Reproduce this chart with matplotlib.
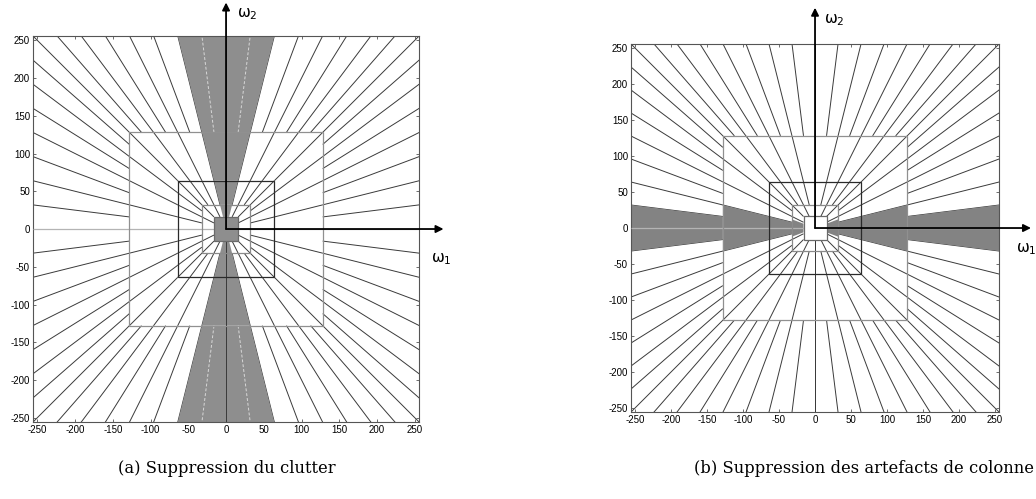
import numpy as np
import matplotlib
matplotlib.use("Agg")
import matplotlib.pyplot as plt
from matplotlib.collections import LineCollection
from matplotlib.patches import Polygon, Rectangle

# Pavage fréquentiel (couronnes carrées + directions)
ring_edges = [16, 32, 64, 128, 256]
ring_steps = [1 / 2, 1 / 4, 1 / 4, 1 / 8]        # pas des pentes par couronne
gray_clutter = [1 / 4, 1 / 4, 1 / 4, 1 / 4]      # cône vertical supprimé (a)
gray_columns = [3 / 8, 1 / 4, 1 / 4, 1 / 8]      # cône horizontal supprimé (b)
tick_vals = list(range(-250, 251, 50))
captions = ["(a) Suppression du clutter",
            "(b) Suppression des artefacts de colonne"]

plt.rcParams["font.family"] = ["Liberation Sans", "DejaVu Sans"]
plt.rcParams["mathtext.fontset"] = "dejavusans"
plt.rcParams["axes.unicode_minus"] = False


def wedge_polys(r0, r1, a, vertical):
    polys = []
    for s in (1, -1):
        pts = [(-a * r1, s * r1), (a * r1, s * r1), (a * r0, s * r0), (-a * r0, s * r0)]
        if not vertical:
            pts = [(y, x) for x, y in pts]
        polys.append(pts)
    return polys


def draw_panel(ax, gray, vertical, center_gray, fill):
    dark, light, dashed = [], [], []
    for i in range(4):
        r0, r1 = ring_edges[i], ring_edges[i + 1]
        ts = np.arange(-1, 1 + 1e-9, ring_steps[i])
        for t in ts:
            for s in (1, -1):
                # cône horizontal
                seg = [(s * r0, s * r0 * t), (s * r1, s * r1 * t)]
                inside = (not vertical) and abs(t) < gray[i] - 1e-9
                if abs(t) < 1e-9:
                    light.append(seg)
                elif inside:
                    dashed.append(seg)
                else:
                    dark.append(seg)
                if abs(abs(t) - 1) < 1e-9:
                    continue
                # cône vertical
                seg = [(s * r0 * t, s * r0), (s * r1 * t, s * r1)]
                inside = vertical and abs(t) < gray[i] - 1e-9
                if inside and abs(t) > 1e-9:
                    dashed.append(seg)
                else:
                    dark.append(seg)

    ax.add_collection(LineCollection(dark, colors="#3a3a3a", linewidths=0.7, zorder=1))
    for i in range(4):
        for p in wedge_polys(ring_edges[i], ring_edges[i + 1], gray[i], vertical):
            ax.add_patch(Polygon(p, closed=True, facecolor=fill, edgecolor="none", zorder=2))
    r = ring_edges[0]
    ax.add_patch(Rectangle((-r, -r), 2 * r, 2 * r,
                           facecolor=fill if center_gray else "white",
                           edgecolor="none", zorder=2))
    ax.add_collection(LineCollection(light, colors="#b4b4b4", linewidths=0.9, zorder=3))
    ax.add_collection(LineCollection(dashed, colors="#d8d8d8", linewidths=0.7,
                                     linestyles=(0, (3, 2)), zorder=3))
    # ligne verticale sous le centre
    ax.plot([0, 0], [-256, -16], color="#3a3a3a", lw=0.7, zorder=3)

    sq_colors = {16: "#6a6a6a", 32: "#8a8a8a", 64: "#2a2a2a", 128: "#909090"}
    for r in ring_edges[:-1]:
        ax.add_patch(Rectangle((-r, -r), 2 * r, 2 * r, facecolor="none",
                               edgecolor=sq_colors[r], lw=0.9, zorder=4))

    ax.set_xlim(-256, 256)
    ax.set_ylim(-256, 256)
    ax.set_xticks(tick_vals)
    ax.set_yticks(tick_vals)
    ax.tick_params(direction="in", length=2.5, width=0.6, top=True, right=True,
                   labelsize=7, pad=2, colors="#555555", labelcolor="black")
    for sp in ax.spines.values():
        sp.set_color("#555555")
        sp.set_linewidth(0.8)


fig = plt.figure(figsize=(10.36, 4.99), dpi=100)
ax1 = fig.add_axes([0.0316, 0.1537, 0.3732, 0.7747])
ax2 = fig.add_axes([0.6088, 0.1737, 0.3558, 0.7387])

draw_panel(ax1, gray_clutter, True, True, "#8e8e8e")
draw_panel(ax2, gray_columns, False, False, "#838383")

arrow = dict(arrowstyle="-|>", color="black", lw=1.3, mutation_scale=11,
             shrinkA=0, shrinkB=0)
for ax, xt, yt, w1, w2 in [(ax1, 288, 300, (272, -40), (15, 285)),
                           (ax2, 300, 306, (279, -30), (13, 289))]:
    ax.annotate("", xy=(xt, 0), xytext=(0, 0), arrowprops=arrow,
                annotation_clip=False, zorder=6)
    ax.annotate("", xy=(0, yt), xytext=(0, 0), arrowprops=arrow,
                annotation_clip=False, zorder=6)
    ax.text(w1[0], w1[1], r"$\mathrm{\omega}_1$", fontsize=11, va="center",
            ha="left", clip_on=False)
    ax.text(w2[0], w2[1], r"$\mathrm{\omega}_2$", fontsize=11, va="center",
            ha="left", clip_on=False)

fig.text(0.219, 0.062, captions[0], ha="center", va="center", fontsize=11.8,
         family="DejaVu Serif")
fig.text(0.9985, 0.062, captions[1], ha="right", va="center", fontsize=11.8,
         family="DejaVu Serif")

fig.savefig("out.png", dpi=100)
